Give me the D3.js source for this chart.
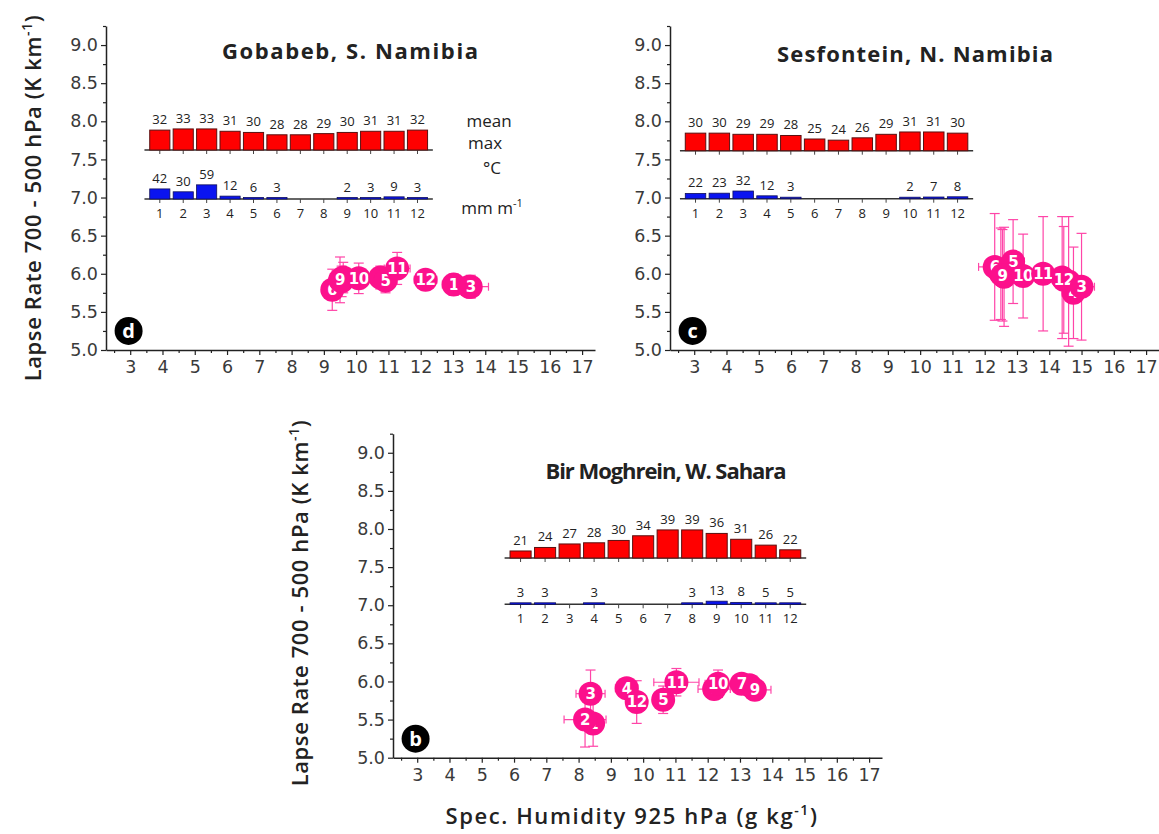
<!DOCTYPE html>
<html>
<head>
<meta charset="utf-8">
<script src="https://cdn.jsdelivr.net/npm/d3@7/dist/d3.min.js"></script>
<style>
  body { margin: 0; background: #fff; }
  svg { display: block; font-family: "Open Sans", sans-serif; }
</style>
</head>
<body>
<div id="chart"></div>
<script>
const months = d3.range(1, 13);

// inset bars: monthly mean max temperature (°C) and rainfall (mm per month)
const gobabebTmax = [32, 33, 33, 31, 30, 28, 28, 29, 30, 31, 31, 32];
const gobabebRain = [42, 30, 59, 12, 6, 3, 0, 0, 2, 3, 9, 3];
const sesfonteinTmax = [30, 30, 29, 29, 28, 25, 24, 26, 29, 31, 31, 30];
const sesfonteinRain = [22, 23, 32, 12, 3, 0, 0, 0, 0, 2, 7, 8];
const birTmax = [21, 24, 27, 28, 30, 34, 39, 39, 36, 31, 26, 22];
const birRain = [3, 3, 0, 3, 0, 0, 0, 3, 13, 8, 5, 5];

// scatter points, listed in the order they are drawn (later ones sit on top)
const gobabebMonth = [6, 7, 8, 9, 10, 4, 5, 11, 12, 1, 2, 3];
const gobabebQ = [9.26, 9.55, 9.6, 9.5, 10.08, 10.75, 10.91, 11.27, 12.15, 13.02, 13.5, 13.55];
const gobabebLapse = [5.79, 5.9, 5.95, 5.92, 5.94, 5.95, 5.91, 6.07, 5.92, 5.86, 5.83, 5.83];
const gobabebQErr = [0.3, 0.3, 0.35, 0.3, 0.35, 0.3, 0.3, 0.4, 0.35, 0.35, 0.3, 0.55];
const gobabebLapseErr = [0.27, 0.2, 0.2, 0.3, 0.2, 0.15, 0.16, 0.21, 0.12, 0.14, 0.12, 0.15];

const sesfonteinMonth = [1, 2, 4, 7, 8, 6, 5, 9, 10, 11, 12, 3];
const sesfonteinQ = [14.4, 14.6, 14.75, 12.5, 12.6, 12.31, 12.88, 12.55, 13.19, 13.81, 14.45, 15.0];
const sesfonteinLapse = [5.95, 5.9, 5.75, 6.0, 5.96, 6.09, 6.16, 5.98, 5.97, 6.0, 5.92, 5.83];
const sesfonteinQErr = [0.35, 0.35, 0.35, 0.35, 0.35, 0.5, 0.35, 0.35, 0.35, 0.35, 0.35, 0.4];
const sesfonteinLapseErr = [0.8, 0.85, 0.6, 0.6, 0.65, 0.7, 0.55, 0.6, 0.55, 0.75, 0.7, 0.7];

const birMonth = [1, 6, 8, 2, 3, 4, 12, 5, 11, 10, 7, 9];
const birQ = [8.45, 12.2, 13.3, 8.2, 8.37, 9.49, 9.8, 10.62, 11.03, 12.32, 13.05, 13.46];
const birLapse = [5.45, 5.9, 5.95, 5.5, 5.84, 5.91, 5.73, 5.76, 5.99, 5.97, 5.97, 5.89];
const birQErr = [0.3, 0.5, 0.3, 0.65, 0.45, 0.35, 0.3, 0.3, 0.7, 0.4, 0.3, 0.5];
const birLapseErr = [0.3, 0.1, 0.1, 0.36, 0.31, 0.1, 0.28, 0.18, 0.18, 0.18, 0.1, 0.12];

const xTicks = d3.range(3, 18);
const yTicks = d3.range(5, 9.01, 0.5);

const W = 1159, H = 834;
const plotW = 489, plotH = 324;
const pink = '#fc108c';
const pinkBar = '#ff45a8';

const svg = d3.select('#chart').append('svg')
  .attr('width', W)
  .attr('height', H);

const x = d3.scaleLinear().domain([2.25, 17.4]).range([0, plotW]);
const y = d3.scaleLinear().domain([5, 9.25]).range([plotH, 0]);
const tBar = d3.scaleLinear().domain([15, 40]).range([0, 29.25]);
const rBar = d3.scaleLinear().domain([0, 60]).range([0, 14.4]);

function drawPanel(p) {
  const g = svg.append('g').attr('transform', `translate(${p.left},${p.top})`);

  // axes, major + minor ticks
  const xa = g.append('g').attr('transform', `translate(0,${plotH})`)
    .call(d3.axisBottom(x).tickValues(xTicks).tickFormat(d3.format('d')).tickSize(5).tickSizeOuter(0).tickPadding(6));
  g.append('g').attr('transform', `translate(0,${plotH})`)
    .call(d3.axisBottom(x).tickValues(d3.range(2.5, 17.4, 1)).tickFormat('').tickSize(3))
    .select('.domain').remove();
  const ya = g.append('g')
    .call(d3.axisLeft(y).tickValues(yTicks).tickFormat(d3.format('.1f')).tickSize(5).tickSizeOuter(0).tickPadding(3));
  g.append('g')
    .call(d3.axisLeft(y).tickValues(d3.range(5.25, 9.3, 0.5)).tickFormat('').tickSize(3))
    .select('.domain').remove();
  g.selectAll('.domain').attr('stroke', '#222').attr('stroke-width', 1.5);
  g.selectAll('.tick line').attr('stroke', '#222').attr('stroke-width', 1.2);
  [xa, ya].forEach(a => a.selectAll('text')
    .attr('font-family', '"DejaVu Sans", sans-serif')
    .attr('font-size', 17.5)
    .attr('fill', '#3a3a3a'));

  // title
  svg.append('text')
    .attr('x', p.titleX).attr('y', p.titleY)
    .attr('text-anchor', 'middle')
    .attr('font-size', 22).attr('font-weight', 'bold').attr('fill', '#222')
    .attr('textLength', p.titleW).attr('lengthAdjust', 'spacing')
    .text(p.title);

  // inset: monthly bars
  const band = d3.scaleBand().domain(months)
    .range([p.m1 - p.step / 2, p.m1 + 11.5 * p.step]).padding(0.14);
  const inset = g.append('g');
  [p.redBase, p.blueBase].forEach(by => {
    inset.append('line')
      .attr('x1', band.range()[0] - 2).attr('x2', band.range()[1] + 2)
      .attr('y1', by).attr('y2', by)
      .attr('stroke', '#333').attr('stroke-width', 1.5);
    inset.selectAll(null).data(months).enter().append('line')
      .attr('x1', d => band(d) + band.bandwidth() / 2)
      .attr('x2', d => band(d) + band.bandwidth() / 2)
      .attr('y1', by).attr('y2', by + 4)
      .attr('stroke', '#444').attr('stroke-width', 1);
  });
  inset.selectAll('rect.t').data(p.tmax).enter().append('rect')
    .attr('x', (d, i) => band(months[i]))
    .attr('width', band.bandwidth())
    .attr('y', d => p.redBase - tBar(d))
    .attr('height', d => tBar(d))
    .attr('fill', '#ff0000').attr('stroke', '#5a1010').attr('stroke-width', 1);
  inset.selectAll('text.t').data(p.tmax).enter().append('text')
    .attr('x', (d, i) => band(months[i]) + band.bandwidth() / 2)
    .attr('y', d => p.redBase - tBar(d) - 6)
    .attr('text-anchor', 'middle')
    .attr('font-size', 13).attr('fill', '#222')
    .text(d => d);
  p.rain.forEach((d, i) => {
    if (d <= 0) return;
    const h = Math.max(rBar(d), 1.5);
    inset.append('rect')
      .attr('x', band(months[i])).attr('width', band.bandwidth())
      .attr('y', p.blueBase - h).attr('height', h)
      .attr('fill', '#0a14f0').attr('stroke', '#10105a').attr('stroke-width', 0.8);
    inset.append('text')
      .attr('x', band(months[i]) + band.bandwidth() / 2)
      .attr('y', p.blueBase - h - 6)
      .attr('text-anchor', 'middle')
      .attr('font-size', 13).attr('fill', '#222')
      .text(d);
  });
  inset.selectAll('text.m').data(months).enter().append('text')
    .attr('x', d => band(d) + band.bandwidth() / 2)
    .attr('y', p.blueBase + 19)
    .attr('text-anchor', 'middle')
    .attr('font-size', 13).attr('fill', '#222')
    .text(d => d);

  // scatter with error bars
  const pts = p.month.map((m, i) => ({ m, q: p.q[i], l: p.lapse[i], qe: p.qErr[i], le: p.lapseErr[i] }));
  const eb = g.append('g').attr('stroke', pinkBar).attr('stroke-width', 1.2).attr('fill', 'none');
  pts.forEach(d => {
    const cx = x(d.q), cy = y(d.l);
    const x0 = x(d.q - d.qe), x1 = x(d.q + d.qe);
    const y0 = y(d.l - d.le), y1 = y(d.l + d.le);
    eb.append('line').attr('x1', x0).attr('x2', x1).attr('y1', cy).attr('y2', cy);
    eb.append('line').attr('x1', x0).attr('x2', x0).attr('y1', cy - 4).attr('y2', cy + 4);
    eb.append('line').attr('x1', x1).attr('x2', x1).attr('y1', cy - 4).attr('y2', cy + 4);
    eb.append('line').attr('x1', cx).attr('x2', cx).attr('y1', y0).attr('y2', y1);
    eb.append('line').attr('x1', cx - 5).attr('x2', cx + 5).attr('y1', y0).attr('y2', y0);
    eb.append('line').attr('x1', cx - 5).attr('x2', cx + 5).attr('y1', y1).attr('y2', y1);
  });
  const pg = g.selectAll('g.pt').data(pts).enter().append('g')
    .attr('transform', d => `translate(${x(d.q)},${y(d.l)})`);
  pg.append('circle').attr('r', 12).attr('fill', pink);
  pg.append('text')
    .attr('text-anchor', 'middle').attr('dy', '0.36em')
    .attr('font-family', '"DejaVu Sans", sans-serif')
    .attr('font-size', 15).attr('font-weight', 'bold').attr('fill', '#fff')
    .attr('letter-spacing', -0.5)
    .text(d => d.m);

  // panel letter
  const lg = g.append('g').attr('transform', `translate(${x(2.95)},${y(5.25)})`);
  lg.append('circle').attr('r', 14).attr('fill', '#000');
  lg.append('text').attr('text-anchor', 'middle').attr('dy', '0.36em')
    .attr('font-size', 20).attr('font-weight', 'bold').attr('fill', '#fff')
    .text(p.letter);

  if (p.yLabel) {
    const t = svg.append('text')
      .attr('transform', `translate(${p.yLabelX},${p.yLabelY}) rotate(-90)`)
      .attr('text-anchor', 'middle')
      .attr('font-size', 22).attr('font-weight', 600).attr('fill', '#222')
      .attr('letter-spacing', 0.6);
    t.append('tspan').text('Lapse Rate 700 - 500 hPa (K km');
    t.append('tspan').attr('baseline-shift', 'super').attr('font-size', 14).text('-1');
    t.append('tspan').text(')');
  }
}

drawPanel({
  left: 106, top: 26, title: 'Gobabeb, S. Namibia', titleX: 350, titleY: 59, titleW: 256, letter: 'd',
  tmax: gobabebTmax, rain: gobabebRain,
  m1: 52.3, step: 23.7, redBase: 124, blueBase: 173,
  month: gobabebMonth, q: gobabebQ, lapse: gobabebLapse, qErr: gobabebQErr, lapseErr: gobabebLapseErr,
  yLabel: true, yLabelX: 41, yLabelY: 198
});
drawPanel({
  left: 670, top: 26, title: 'Sesfontein, N. Namibia', titleX: 915, titleY: 62, titleW: 276, letter: 'c',
  tmax: sesfonteinTmax, rain: sesfonteinRain,
  m1: 24, step: 24.1, redBase: 124.7, blueBase: 172.7,
  month: sesfonteinMonth, q: sesfonteinQ, lapse: sesfonteinLapse, qErr: sesfonteinQErr, lapseErr: sesfonteinLapseErr,
  yLabel: false
});
drawPanel({
  left: 393, top: 433.7, title: 'Bir Moghrein, W. Sahara', titleX: 666, titleY: 479, titleW: 241, letter: 'b',
  tmax: birTmax, rain: birRain,
  m1: 126, step: 24.8, redBase: 124.3, blueBase: 170.6,
  month: birMonth, q: birQ, lapse: birLapse, qErr: birQErr, lapseErr: birLapseErr,
  yLabel: true, yLabelX: 308, yLabelY: 603
});

// legend words beside the Gobabeb inset
const legend = svg.append('g').attr('font-size', 17).attr('fill', '#222').attr('text-anchor', 'middle');
legend.append('text').attr('x', 489).attr('y', 127).text('mean');
legend.append('text').attr('x', 485).attr('y', 149).text('max');
legend.append('text').attr('x', 492).attr('y', 174).text('°C');
const mm = legend.append('text').attr('x', 492).attr('y', 214);
mm.append('tspan').text('mm m');
mm.append('tspan').attr('baseline-shift', 'super').attr('font-size', 11).text('-1');

// x axis title under the bottom panel
const xt = svg.append('text')
  .attr('x', 632).attr('y', 824)
  .attr('text-anchor', 'middle')
  .attr('font-size', 22).attr('font-weight', 600).attr('fill', '#222')
  .attr('letter-spacing', 1.6);
xt.append('tspan').text('Spec. Humidity  925 hPa (g kg');
xt.append('tspan').attr('baseline-shift', 'super').attr('font-size', 14).text('-1');
xt.append('tspan').text(')');
</script>
</body>
</html>
